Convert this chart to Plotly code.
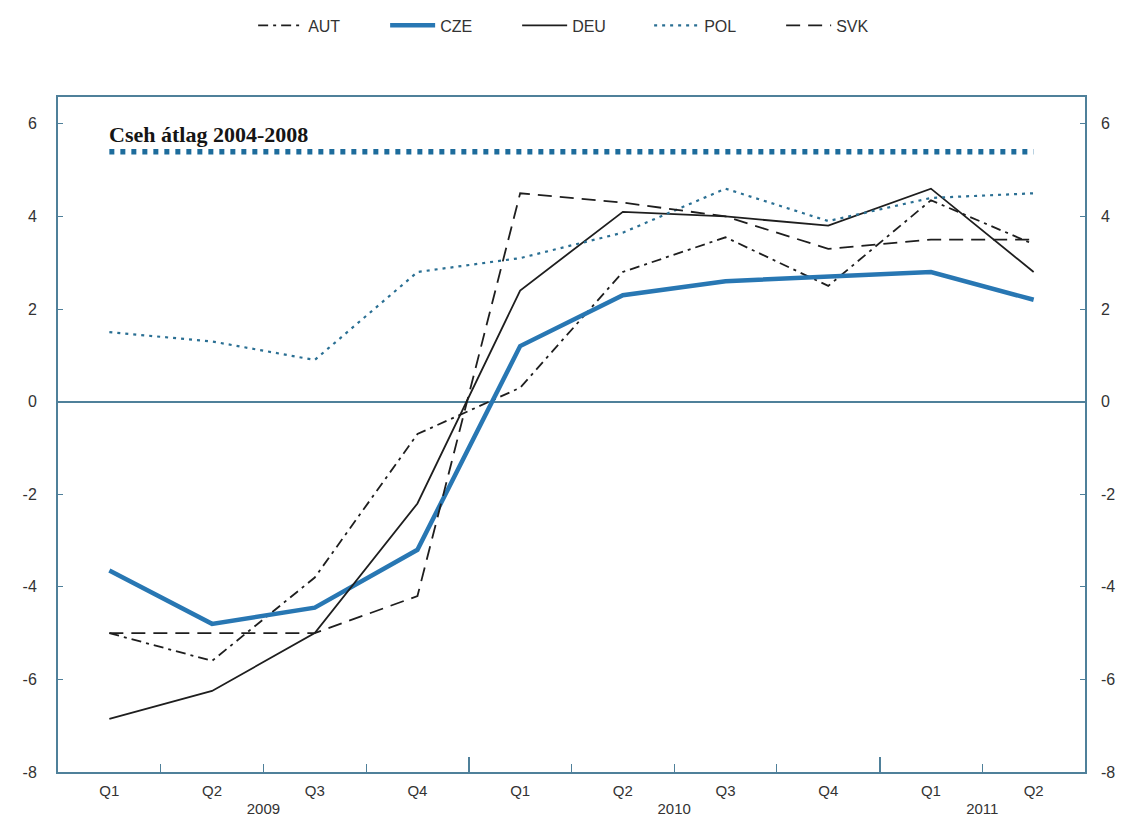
import plotly.graph_objects as go

quarters = ["Q1", "Q2", "Q3", "Q4", "Q1", "Q2", "Q3", "Q4", "Q1", "Q2"]
years = ["2009", "2010", "2011"]
year_pos = [1.5, 5.5, 8.5]
x_idx = list(range(len(quarters)))

aut = [-5.0, -5.6, -3.8, -0.7, 0.3, 2.8, 3.55, 2.5, 4.35, 3.4]
cze = [-3.65, -4.8, -4.45, -3.2, 1.2, 2.3, 2.6, 2.7, 2.8, 2.2]
deu = [-6.85, -6.25, -5.0, -2.2, 2.4, 4.1, 4.0, 3.8, 4.6, 2.8]
pol = [1.5, 1.3, 0.9, 2.8, 3.1, 3.65, 4.6, 3.9, 4.4, 4.5]
svk = [-5.0, -5.0, -5.0, -4.2, 4.5, 4.3, 4.0, 3.3, 3.5, 3.5]
cze_avg = 5.4
avg_label = "Cseh átlag 2004-2008"

y_ticks = [-8, -6, -4, -2, 0, 2, 4, 6]
y_ticktext = ["-8", "-6", "-4", "-2", "0", "2", "4", "6"]
quarter_bounds = [0.5, 1.5, 2.5, 4.5, 5.5, 6.5, 8.5]
year_bounds = [3.5, 7.5]

axis_col = "#4f809a"
dark = "#1e1e1e"
blue = "#2877b3"
txt = "#333333"
font_sans = "Liberation Sans, Arial, sans-serif"

fig = go.Figure()
fig.add_trace(go.Scatter(x=x_idx, y=aut, name="AUT", mode="lines",
                         line=dict(color=dark, width=1.8, dash="10px,5px,3px,5px")))
fig.add_trace(go.Scatter(x=x_idx, y=cze, name="CZE", mode="lines",
                         line=dict(color=blue, width=4.5)))
fig.add_trace(go.Scatter(x=x_idx, y=deu, name="DEU", mode="lines",
                         line=dict(color=dark, width=1.8)))
fig.add_trace(go.Scatter(x=x_idx, y=pol, name="POL", mode="lines",
                         line=dict(color="#2a6f93", width=2.2, dash="3px,5px")))
fig.add_trace(go.Scatter(x=x_idx, y=svk, name="SVK", mode="lines",
                         line=dict(color=dark, width=1.8, dash="14px,8px")))
fig.add_trace(go.Scatter(x=[x_idx[0], x_idx[-1]], y=[cze_avg, cze_avg], mode="lines",
                         showlegend=False, hoverinfo="skip", xaxis="x2", yaxis="y2",
                         line=dict(color="#1d6c9c", width=5.5, dash="5px,6px")))

fig.add_annotation(x=x_idx[0], y=cze_avg, xref="x", yref="y", text="<b>" + avg_label + "</b>",
                   showarrow=False, xanchor="left", yanchor="bottom", yshift=3, xshift=-2,
                   font=dict(family="Liberation Serif, Times New Roman, serif", size=22, color="#151515"))

fig.update_layout(
    width=1119, height=813,
    margin=dict(l=50, r=42, t=89, b=49, autoexpand=False),
    paper_bgcolor="white", plot_bgcolor="white",
    showlegend=True,
    legend=dict(orientation="h", x=0.19, xanchor="left", y=1.106, yanchor="middle",
                entrywidth=72, entrywidthmode="pixels", itemwidth=45,
                font=dict(family=font_sans, size=16, color=txt), bgcolor="rgba(0,0,0,0)"),
    xaxis=dict(range=[-0.5, 9.5], tickmode="array", tickvals=x_idx, ticktext=quarters,
               ticks="", showgrid=False, zeroline=False, showline=True, mirror=True,
               linecolor=axis_col, linewidth=2, ticklabelstandoff=4, automargin=False,
               tickfont=dict(family=font_sans, size=15, color=txt),
               minor=dict(tickmode="array", tickvals=quarter_bounds, ticks="inside",
                          ticklen=8, tickwidth=1.2, tickcolor=axis_col, showgrid=False)),
    xaxis2=dict(overlaying="x", matches="x", anchor="y2", side="bottom",
                tickmode="array", tickvals=year_pos, ticktext=years, ticks="",
                showgrid=False, zeroline=False, showline=False, ticklabelstandoff=26,
                automargin=False,
                tickfont=dict(family=font_sans, size=15, color=txt),
                minor=dict(tickmode="array", tickvals=year_bounds, ticks="inside",
                           ticklen=15, tickwidth=1.5, tickcolor=axis_col, showgrid=False)),
    yaxis=dict(range=[-8, 6.58], tickmode="array", tickvals=y_ticks, ticktext=y_ticktext,
               ticks="inside", automargin=False,
               ticklen=5, tickcolor=axis_col, showgrid=False, zeroline=True,
               zerolinecolor=axis_col, zerolinewidth=1.8, showline=True, mirror=True,
               linecolor=axis_col, linewidth=2, ticklabelstandoff=16,
               tickfont=dict(family=font_sans, size=16, color=txt)),
    yaxis2=dict(overlaying="y", matches="y", anchor="x", side="right",
                tickmode="array", tickvals=y_ticks, ticktext=y_ticktext, ticks="inside",
                ticklen=5, automargin=False,
                tickcolor=axis_col, showgrid=False, zeroline=False, showline=False,
                ticklabelstandoff=15,
                tickfont=dict(family=font_sans, size=16, color=txt)),
)

fig.write_html("out.html")
